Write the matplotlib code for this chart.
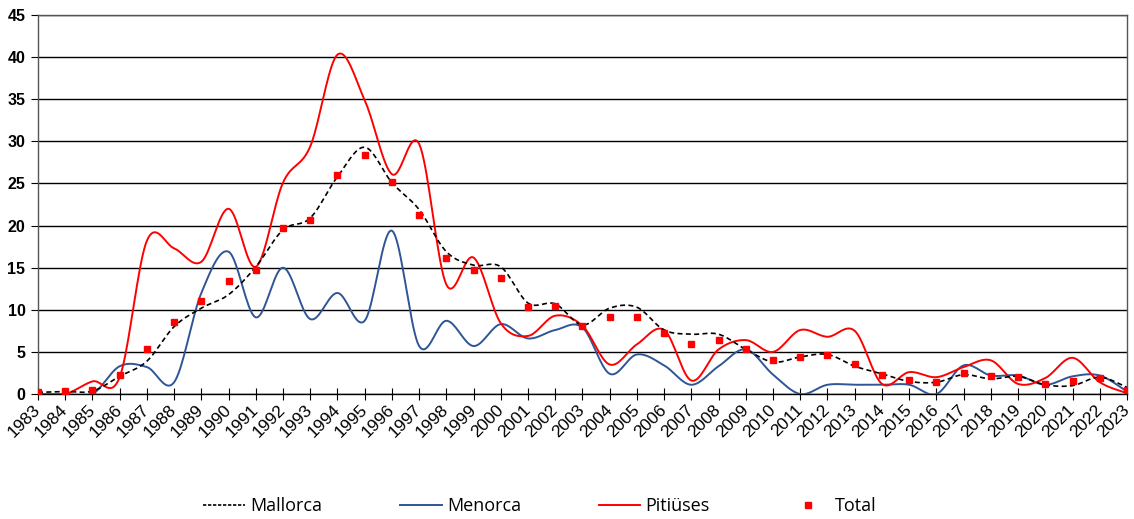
import numpy as np
import matplotlib
matplotlib.use("Agg")
import matplotlib.pyplot as plt
from matplotlib.lines import Line2D

years = list(range(1983, 2024))

mallorca = [0.2, 0.3, 0.35, 2.1, 3.9, 8.0, 10.2, 11.8, 15.1, 19.5, 20.9, 25.8, 29.3,
            25.1, 21.9, 16.9, 15.3, 15.1, 10.8, 10.7, 8.2, 10.2, 10.3, 7.6, 7.1, 7.1,
            5.3, 3.8, 4.4, 4.7, 3.3, 2.4, 1.5, 1.4, 2.3, 1.8, 2.1, 1.1, 1.0, 2.0, 0.8]
menorca = [0.0, 0.0, 0.0, 3.3, 3.2, 1.4, 12.0, 16.9, 9.1, 15.0, 8.9, 12.0, 8.7,
           19.4, 5.7, 8.7, 5.7, 8.3, 6.6, 7.6, 7.9, 2.4, 4.7, 3.4, 1.1, 3.3,
           5.3, 2.3, 0.0, 1.1, 1.1, 1.1, 1.1, 0.0, 3.4, 2.2, 2.2, 1.1, 2.1, 2.2, 0.3]
pitiuses = [0.0, 0.0, 1.5, 2.0, 18.2, 17.3, 15.7, 22.0, 15.1, 25.1, 29.4, 40.3, 34.9,
            26.1, 29.7, 13.0, 16.2, 8.4, 6.9, 9.3, 8.1, 3.5, 5.9, 7.6, 1.6, 5.3,
            6.4, 5.0, 7.6, 6.8, 7.5, 1.2, 2.6, 2.0, 3.2, 4.0, 1.2, 1.9, 4.3, 1.4, 0.1]
total = [0.2, 0.3, 0.5, 2.2, 5.4, 8.5, 11.0, 13.4, 14.7, 19.7, 20.7, 26.0, 28.4,
         25.2, 21.3, 16.1, 14.7, 13.8, 10.3, 10.4, 8.1, 9.2, 9.2, 7.2, 5.9, 6.4,
         5.4, 4.0, 4.4, 4.6, 3.6, 2.2, 1.7, 1.4, 2.5, 2.1, 2.0, 1.2, 1.6, 1.9, 0.5]


def smooth(x, y, n=20):
    # bezier smoothing like a spreadsheet "smoothed line"
    x = np.asarray(x, float)
    y = np.asarray(y, float)
    px = np.concatenate([[x[0]], x, [x[-1]]])
    py = np.concatenate([[y[0]], y, [y[-1]]])
    t = np.linspace(0, 1, n)[:, None]
    xs, ys = [], []
    for i in range(1, len(px) - 2):
        p0 = np.array([px[i], py[i]])
        p3 = np.array([px[i + 1], py[i + 1]])
        p1 = p0 + (np.array([px[i + 1], py[i + 1]]) - np.array([px[i - 1], py[i - 1]])) / 6
        p2 = p3 - (np.array([px[i + 2], py[i + 2]]) - np.array([px[i], py[i]])) / 6
        pts = ((1 - t) ** 3) * p0 + 3 * ((1 - t) ** 2) * t * p1 + 3 * (1 - t) * t ** 2 * p2 + t ** 3 * p3
        xs.append(pts[:, 0])
        ys.append(pts[:, 1])
    return np.concatenate(xs), np.concatenate(ys)


fig = plt.figure(figsize=(11.34, 5.19), dpi=100)
ax = fig.add_axes([0.0335, 0.2408, 0.9603, 0.7302])

blue = "#2F5597"
red = "#FF0000"

ax.plot(*smooth(years, mallorca), color="black", lw=1.2, ls=(0, (3, 2)), zorder=4)
ax.plot(*smooth(years, menorca), color=blue, lw=1.4, zorder=3)
ax.plot(*smooth(years, pitiuses), color=red, lw=1.4, zorder=3)
ax.plot(years, total, ls="none", marker="s", ms=5, color=red, zorder=5)

ax.set_xlim(1983, 2023)
ax.set_ylim(0, 45)
ax.set_yticks(range(0, 46, 5))
ax.set_xticks(years)
ax.set_xticklabels([str(y) for y in years], rotation=45, ha="right", va="center",
                   rotation_mode="anchor", fontsize=12.5, family="Liberation Sans")
for lab in ax.get_yticklabels():
    lab.set_fontweight("bold")
    lab.set_fontsize(11.5)
    lab.set_family("Liberation Sans")

ax.grid(axis="y", color="black", lw=1)
ax.set_axisbelow(True)
for s in ax.spines.values():
    s.set_color("#555555")
    s.set_linewidth(1)
ax.spines["bottom"].set_color("black")
ax.tick_params(axis="x", direction="inout", length=9, width=0.8, pad=5)
ax.tick_params(axis="y", direction="out", length=5, width=0.8, pad=4)

handles = [
    Line2D([], [], color="black", lw=1.2, ls=(0, (2, 1))),
    Line2D([], [], color=blue, lw=1.4),
    Line2D([], [], color=red, lw=1.4),
    Line2D([], [], ls="none", marker="s", ms=4, color=red),
]
fig.legend(handles, ["Mallorca", "Menorca", "Pitiüses", "Total"],
           loc="center", bbox_to_anchor=(0.476, 0.025), ncol=4, frameon=False,
           prop={"family": "Open Sans", "size": 13}, columnspacing=4.3,
           handlelength=2.3, handletextpad=0.3)

fig.savefig("out.png", dpi=100)
